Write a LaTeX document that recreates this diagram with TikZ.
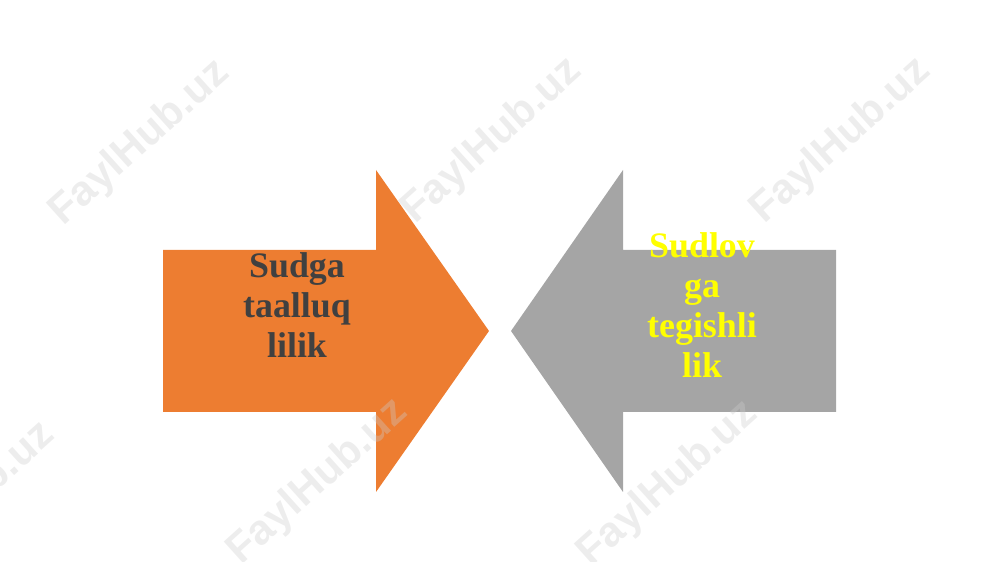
\documentclass[tikz,border=0pt]{standalone}
\usepackage{fontspec}
\setmainfont{Liberation Serif}
\newfontfamily\markfont{Liberation Sans}
\definecolor{arrorange}{HTML}{ED7D31}
\definecolor{arrgray}{HTML}{A5A5A5}
\definecolor{txtdark}{HTML}{404040}
\definecolor{txtyellow}{HTML}{FFFF00}
\tikzset{
    label text/.style={align=center,font=\bfseries\fontsize{10.2}{11.4}\selectfont,inner sep=0pt},
    watermark/.style={font=\markfont\bfseries\fontsize{12}{13}\selectfont,text=gray!40,opacity=0.35,rotate=42}
}

\begin{document}
\begin{tikzpicture}[x=0.01cm,y=-0.01cm]
\useasboundingbox (0,0) rectangle (1000,562);
\fill[arrorange] (163,250) -- (376,250) -- (376,170) -- (489,331) -- (376,492) -- (376,412) -- (163,412) -- cycle;
\fill[arrgray] (836,250) -- (623,250) -- (623,170) -- (511,331) -- (623,492) -- (623,412) -- (836,412) -- cycle;
\node[label text,text=txtdark] (court) at (297,305) {Sudga\\taalluq\\lilik};
\node[label text,text=txtyellow] (juris) at (702,305) {Sudlov\\ga\\tegishli\\lik};
\begin{scope}
    \clip (0,0) rectangle (1000,562);
    \node[watermark] (mark1) at (140,143) {FaylHub.uz};
    \node[watermark] (mark2) at (492,141) {FaylHub.uz};
    \node[watermark] (mark3) at (841,141) {FaylHub.uz};
    \node[watermark] (mark4) at (-35,505) {FaylHub.uz};
    \node[watermark] (mark5) at (318,482) {FaylHub.uz};
    \node[watermark] (mark6) at (668,484) {FaylHub.uz};
\end{scope}
\end{tikzpicture}
\end{document}
